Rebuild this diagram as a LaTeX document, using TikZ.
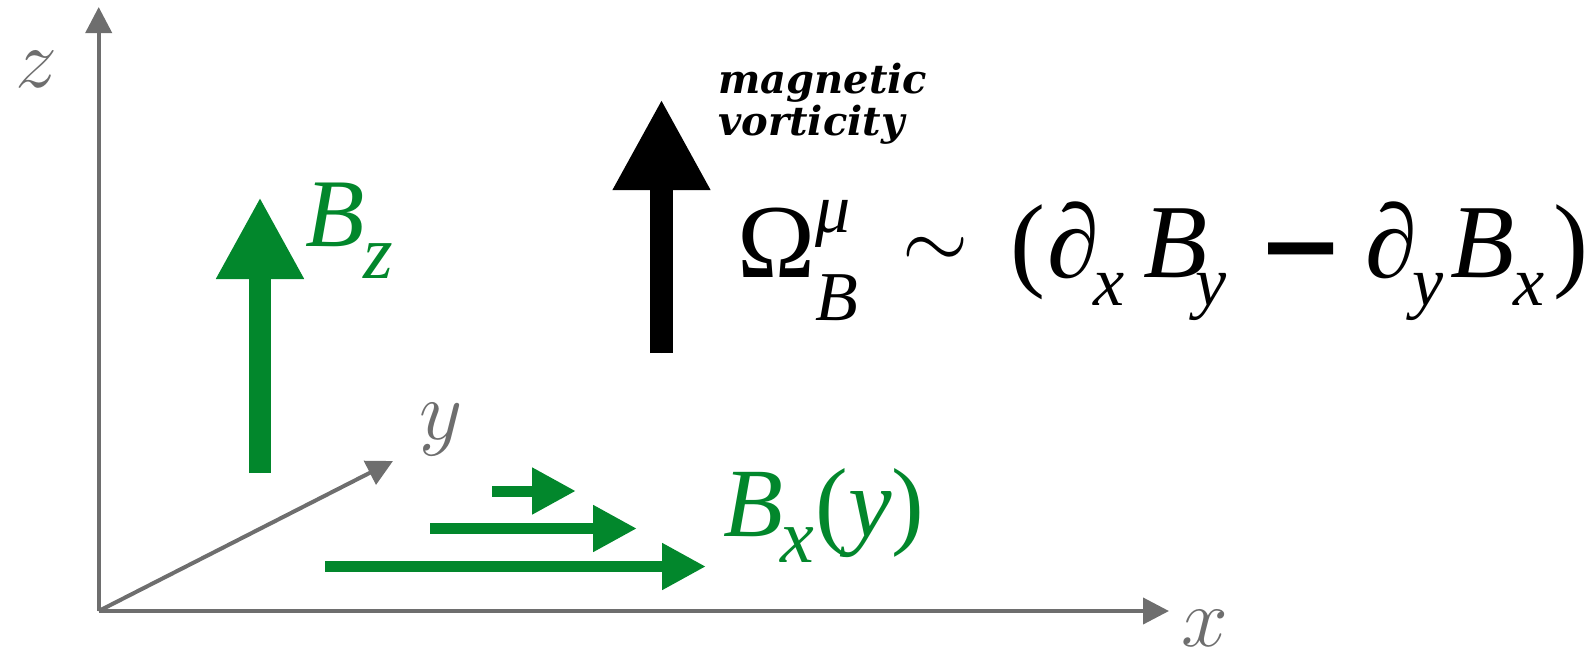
\documentclass[tikz,border=0pt]{standalone}
\usepackage{fix-cm}
\usepackage{fontspec}
\newfontfamily\tnr{Liberation Serif}
\newfontfamily\djs{DejaVu Sans}
\newfontfamily\djserif{DejaVu Serif}
\usetikzlibrary{arrows.meta}
\definecolor{axgray}{RGB}{110,110,110}
\definecolor{bgreen}{RGB}{2,135,44}
\newlength\unitpx \setlength\unitpx{0.5pt}
\newcommand\mkw[2]{\makebox[#1\unitpx][l]{#2}}
\newcommand\fsz[1]{\fontsize{#1}{#1}\selectfont}
\tikzset{
  axis/.style={draw=axgray, line width=2pt, -{Triangle[length=13pt,width=13pt]}},
  axlabel/.style={text=axgray, inner sep=0, anchor=center},
  bigvec/.style={line width=11pt, -{Triangle[length=41pt,width=41pt]}},
  blackvec/.style={line width=11.5pt, -{Triangle[length=45.5pt,width=45.5pt]}},
  flowvec/.style={draw=bgreen, line width=5.5pt, -{Triangle[length=22pt,width=22pt]}},
  txt/.style={inner sep=0, anchor=base west}
}
\begin{document}
\begin{tikzpicture}[x=0.5pt, y=-0.5pt]
\useasboundingbox (0,0) rectangle (1594,653);
% axes
\coordinate (O) at (98.7,611);
\coordinate (zt) at (98.7,7);
\coordinate (xt) at (1169,611);
\coordinate (yt) at (393,461);
\draw[axis] (O) -- (zt);
\draw[axis] (O) -- (xt);
\draw[axis] (O) -- (yt);
\node[axlabel] (zl) at (36,69) {\fsz{42pt}$z$};
\node[axlabel] (yl) at (441,430) {\fsz{42pt}$y$};
\node[axlabel] (xl) at (1205,628) {\fsz{42pt}$x$};
% B_z arrow
\coordinate (bzs) at (260,473);
\coordinate (bzt) at (260,197);
\draw[bigvec, draw=bgreen, fill=bgreen] (bzs) -- (bzt);
\node[txt, text=bgreen] (bz) at (305,246) {\tnr\itshape\fsz{48.5pt}\mkw{58}{B}\raisebox{-32\unitpx}{\fsz{38pt}z}};
% flow arrows
\coordinate (f1s) at (492,491);  \coordinate (f1t) at (576,491);
\coordinate (f2s) at (430,528.5); \coordinate (f2t) at (637,528.5);
\coordinate (f3s) at (325,566.5); \coordinate (f3t) at (706,566.5);
\draw[flowvec, fill=bgreen] (f1s) -- (f1t);
\draw[flowvec, fill=bgreen] (f2s) -- (f2t);
\draw[flowvec, fill=bgreen] (f3s) -- (f3t);
\node[txt, text=bgreen] (bx) at (723,536) {\tnr\fsz{49pt}\mkw{57}{\itshape B}\mkw{35}{\raisebox{-26\unitpx}{\fsz{38pt}\itshape x}}(\textit{y})};
% vorticity arrow
\coordinate (vs) at (661.5,353);
\coordinate (vt) at (661.5,99);
\draw[blackvec, draw=black, fill=black] (vs) -- (vt);
\node[txt] (mag) at (718,93) {\djserif\bfseries\itshape\fsz{20pt}magnetic};
\node[txt] (vor) at (718,135) {\djserif\bfseries\itshape\fsz{20pt}vorticity};
% formula
\node[txt] (formula) at (737,277) {\tnr\fsz{52.5pt}%
\mkw{78}{Ω}%
\mkw{87}{\rlap{\raisebox{45\unitpx}{\fsz{35pt}\itshape μ}}\raisebox{-43\unitpx}{\fsz{35pt}\itshape B}}%
\mkw{108}{\raisebox{9\unitpx}{\fsz{42.5pt}$\sim$}}%
\mkw{37}{(}%
\mkw{46}{∂}%
\mkw{50}{\raisebox{-28\unitpx}{\fsz{35pt}\itshape x}}%
\mkw{52}{\itshape B}%
\mkw{62}{\raisebox{-28\unitpx}{\fsz{35pt}\itshape y}}%
\mkw{108}{\raisebox{-2pt}{\djs\bfseries\fsz{52pt}−}}%
\mkw{47}{∂}%
\mkw{38}{\raisebox{-28\unitpx}{\fsz{35pt}\itshape y}}%
\mkw{63}{\itshape B}%
\mkw{40}{\raisebox{-28\unitpx}{\fsz{35pt}\itshape x}}%
)};
\end{tikzpicture}
\end{document}
